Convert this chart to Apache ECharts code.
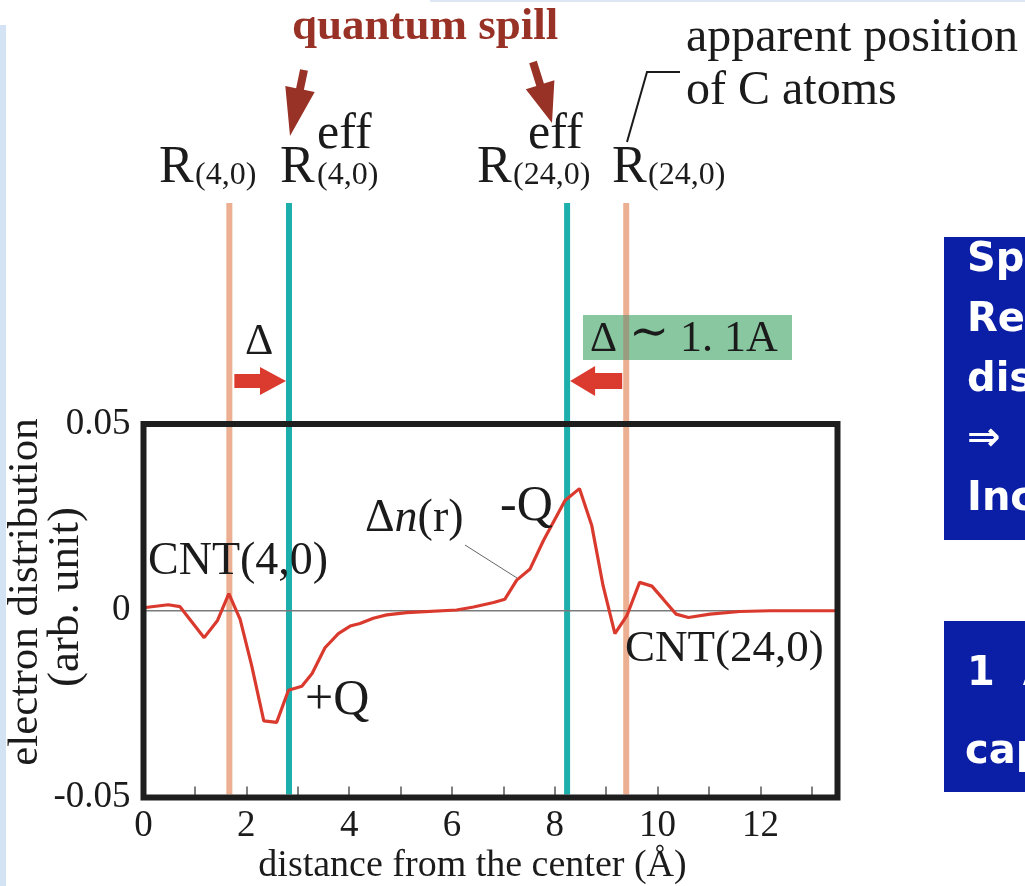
<!DOCTYPE html>
<html>
<head>
<meta charset="utf-8">
<script src="https://cdn.jsdelivr.net/npm/echarts@6/dist/echarts.min.js"></script>
<style>
  html, body { margin: 0; padding: 0; background: #ffffff; }
  #chart { width: 1025px; height: 886px; }
</style>
</head>
<body>
<div id="chart"></div>
<script>
// Induced electron density Δn(r) versus distance from the tube axis (Å)
const distance = [0, 0.48, 0.71, 1.18, 1.44, 1.66, 1.88, 2.10, 2.34, 2.59,
  2.82, 3.08, 3.28, 3.53, 3.79, 4.02, 4.21, 4.47, 4.73, 5.12,
  6.09, 6.42, 6.81, 7.03, 7.26, 7.52, 7.78, 8.20, 8.48, 8.72,
  8.94, 9.17, 9.40, 9.65, 9.89, 10.11, 10.36, 10.60, 11.02, 11.60,
  12.19, 13.5];
const deltaN = [0.0008, 0.0016, 0.0011, -0.0072, -0.0026, 0.0046, -0.0023, -0.0144, -0.0295, -0.0299,
  -0.0213, -0.0202, -0.0168, -0.0099, -0.0061, -0.0041, -0.0034, -0.0020, -0.0011, -0.0005,
  0.0002, 0.0010, 0.0022, 0.0031, 0.0082, 0.0112, 0.0188, 0.0295, 0.0327, 0.0228,
  0.0067, -0.0061, -0.0014, 0.0076, 0.0066, 0.0031, -0.0009, -0.0018, -0.0009, -0.0002,
  0.0000, 0.0000];

// carbon-atom radii of the inner (4,0) and outer (24,0) tubes, and the effective radii
const tubeRadius = [1.67, 9.39];
const effRadius = [2.83, 8.24];

// axis ticks and their labels
const xTickValues = [0, 2, 4, 6, 8, 10, 12];
const xTickLabels = ['0', '2', '4', '6', '8', '10', '12'];
const yTickValues = [-0.05, 0, 0.05];
const yTickLabels = ['-0.05', '0', '0.05'];

const serif = '"Liberation Serif", "Times New Roman", serif';
const ink = '#1b1b1b';

function tickText(values, labels) {
  return function (v) {
    for (let i = 0; i < values.length; i++) {
      if (Math.abs(values[i] - v) < 1e-9) return labels[i];
    }
    return '';
  };
}

const option = {
  animation: false,
  backgroundColor: '#ffffff',
  grid: {
    left: 143.5, right: 187.5, top: 424, bottom: 88.5,
    show: true, borderColor: '#1e1e1e', borderWidth: 6,
    backgroundColor: 'transparent', z: 10,
    containLabel: false, outerBoundsMode: 'none'
  },
  xAxis: {
    type: 'value', min: 0, max: 13.5, interval: 1,
    axisLine: { show: false, onZero: false },
    axisTick: { show: true, inside: true, length: 11, lineStyle: { color: '#555555', width: 1.5 } },
    axisLabel: {
      formatter: tickText(xTickValues, xTickLabels), margin: 10,
      fontSize: 37, fontFamily: serif, color: ink, showMaxLabel: false
    },
    splitLine: { show: false },
    name: 'distance from the center (Å)', nameLocation: 'middle', nameGap: 50,
    nameTextStyle: { fontSize: 38, fontFamily: serif, color: ink, padding: [0, 36, 0, 0] }
  },
  yAxis: {
    type: 'value', min: -0.05, max: 0.05, interval: 0.05,
    axisLine: { show: false, onZero: false },
    axisTick: { show: false },
    axisLabel: {
      formatter: tickText(yTickValues, yTickLabels), margin: 13,
      fontSize: 37, fontFamily: serif, color: ink
    },
    splitLine: { show: false }
  },
  series: [
    {
      name: 'zero', type: 'line', silent: true, z: 2,
      data: [[0, 0], [13.5, 0]], symbol: 'none',
      lineStyle: { color: '#7a7a7a', width: 1.5 }
    },
    {
      name: 'Δn(r)', type: 'line', silent: true, z: 3,
      data: distance.map((d, i) => [d, deltaN[i]]),
      symbol: 'none', smooth: false,
      lineStyle: { color: '#da3a2e', width: 3.2 }
    }
  ]
};

const chart = echarts.init(document.getElementById('chart'), null, { renderer: 'canvas', width: 1025, height: 886 });
chart.setOption(option);

const xp = v => chart.convertToPixel({ xAxisIndex: 0 }, v);
const yBottom = chart.convertToPixel({ yAxisIndex: 0 }, -0.05);

function label(x, base, text, size, opt) {
  opt = opt || {};
  return {
    type: 'text', x: x, y: base - size * 0.34, z: opt.z || 20, silent: true,
    rotation: opt.rotation || 0,
    style: {
      text: text, fill: opt.color || ink,
      fontSize: size, fontFamily: opt.family || serif,
      fontWeight: opt.weight || 'normal', fontStyle: opt.italic ? 'italic' : 'normal',
      align: opt.align || 'left', verticalAlign: 'middle'
    }
  };
}

function poly(points, fill, z) {
  return { type: 'polygon', z: z || 6, silent: true, shape: { points: points }, style: { fill: fill } };
}

const g = [];

// slide background edges
g.push({ type: 'rect', z: 0, silent: true, shape: { x: 0, y: 25, width: 6, height: 861 }, style: { fill: '#d4e3f3' } });
g.push({ type: 'rect', z: 0, silent: true, shape: { x: 430, y: 0, width: 595, height: 2 }, style: { fill: '#dce7f3' } });

// vertical marker lines for the tube radii
const r4 = xp(tubeRadius[0]), r24 = xp(tubeRadius[1]);
const e4 = xp(effRadius[0]), e24 = xp(effRadius[1]);
[[r4, '#ecaf92'], [r24, '#ecaf92'], [e4, '#1cafac'], [e24, '#1cafac']].forEach(function (p) {
  g.push({ type: 'line', z: 1, silent: true, shape: { x1: p[0], y1: 203, x2: p[0], y2: yBottom - 3 }, style: { stroke: p[1], lineWidth: 6 } });
});

// Δ shift arrows between apparent and effective radii
const ay = 381;
g.push(poly([[r4 + 5, ay - 7], [e4 - 29, ay - 7], [e4 - 29, ay - 14], [e4 - 3, ay], [e4 - 29, ay + 14], [e4 - 29, ay + 7], [r4 + 5, ay + 7]], '#db3a2f'));
g.push(poly([[r24 - 4, ay - 8], [e24 + 28, ay - 8], [e24 + 28, ay - 15], [e24 + 3, ay], [e24 + 28, ay + 15], [e24 + 28, ay + 8], [r24 - 4, ay + 8]], '#db3a2f'));
g.push(label((r4 + e4) / 2, 357, 'Δ', 44, { align: 'center' }));

// shaded label box for the outer shift
g.push({ type: 'rect', z: 4, silent: true, shape: { x: 583, y: 315, width: 209, height: 45 }, style: { fill: '#88c7a0' } });
g.push({ type: 'line', z: 5, silent: true, shape: { x1: r24, y1: 315, x2: r24, y2: 360 }, style: { stroke: '#9a9c80', lineWidth: 6 } });
g.push(label(590, 354, 'Δ', 42));
g.push(label(629, 351, '∼', 48, { family: '"DejaVu Serif", serif' }));
g.push(label(680, 354, '1. 1A', 44));

// quantum spill heading and arrows
g.push(label(292, 43, 'quantum spill', 45, { weight: 'bold', color: '#993226' }));
g.push(poly([[300.1, 69.2], [307.9, 70.8], [303.9, 89.8], [314.7, 92.1], [290, 136], [285.3, 85.9], [296.1, 88.2]], '#993226'));
g.push(poly([[529.2, 63.2], [536.8, 60.8], [543.9, 83.6], [554.4, 80.3], [552, 123], [525.8, 89.3], [536.3, 86.0]], '#993226'));

// apparent position note with leader
g.push(label(686, 55, 'apparent position', 48));
g.push(label(686, 108, 'of C atoms', 48));
g.push({ type: 'polyline', z: 6, silent: true, shape: { points: [[627, 142], [647, 72], [680, 72]] }, style: { stroke: '#1b1b1b', lineWidth: 2, fill: null } });

// radius symbols above the marker lines
g.push(label(159, 186, 'R', 52));
g.push(label(195, 186, '(4,0)', 32));
g.push(label(280, 186, 'R', 52));
g.push(label(317, 186, '(4,0)', 32));
g.push(label(317, 152, 'eff', 50));
g.push(label(477, 186, 'R', 52));
g.push(label(513, 186, '(24,0)', 32));
g.push(label(528, 152, 'eff', 50));
g.push(label(612, 186, 'R', 52));
g.push(label(648, 186, '(24,0)', 32));

// annotations inside the plot
g.push(label(148, 578, 'CNT(4,0)', 46));
g.push(label(305, 718, '+Q', 50));
g.push(label(500, 524, '-Q', 50));
g.push({
  type: 'text', x: 365, y: 535 - 46 * 0.34, z: 20, silent: true,
  style: {
    text: '{a|Δ}{b|n}{a|(r)}', align: 'left', verticalAlign: 'middle',
    rich: {
      a: { fontSize: 46, fontFamily: serif, fill: ink },
      b: { fontSize: 46, fontFamily: serif, fontStyle: 'italic', fill: ink }
    }
  }
});
g.push({ type: 'line', z: 6, silent: true, shape: { x1: 465, y1: 545, x2: 517, y2: 578 }, style: { stroke: '#666666', lineWidth: 1 } });
g.push(label(625, 664, 'CNT(24,0)', 45));

// y-axis title, rotated (x is the baseline column)
g.push(label(40, 592, 'electron distribution', 43, { rotation: Math.PI / 2, align: 'center' }));
g.push(label(81, 597, '(arb. unit)', 45, { rotation: Math.PI / 2, align: 'center' }));

// side panels
const panelFont = '"DejaVu Sans", "Noto Sans", sans-serif';
g.push({ type: 'rect', z: 0, silent: true, shape: { x: 944, y: 237, width: 90, height: 303 }, style: { fill: '#0a1fa5' } });
g.push({ type: 'rect', z: 0, silent: true, shape: { x: 944, y: 621, width: 90, height: 171 }, style: { fill: '#0a1fa5' } });
const panelLines = [['Spill-out of electrons', 274], ['Reduces the gap', 334], ['distance of charges', 394], ['⇒  larger C', 453], ['Increases capacitance', 513]];
panelLines.forEach(function (p) { g.push(label(967, p[1], p[0], 40, { family: panelFont, weight: 'bold', color: '#ffffff' })); });
g.push(label(967, 688, '1  Å shift', 40, { family: panelFont, weight: 'bold', color: '#ffffff' }));
g.push(label(965, 766, 'capacitance', 40, { family: panelFont, weight: 'bold', color: '#ffffff' }));

// rotated labels: convert the baseline column into the element's middle point
g.forEach(function (el) {
  if (el.rotation) { el.x = el.x - el.style.fontSize * 0.34; el.y = el.y + el.style.fontSize * 0.34; }
});

chart.setOption({ graphic: { elements: g } });
</script>
</body>
</html>
